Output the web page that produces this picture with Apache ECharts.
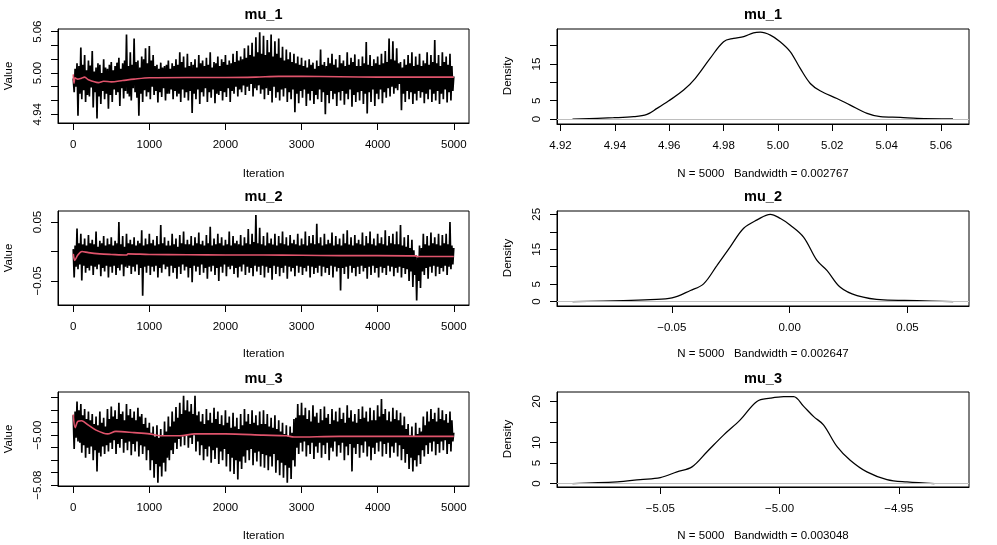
<!DOCTYPE html>
<html>
<head>
<meta charset="utf-8">
<title>mu_1 / mu_2 / mu_3 traces and densities</title>
<script src="https://cdn.jsdelivr.net/npm/echarts@6/dist/echarts.min.js"></script>
<style>
  html, body { margin: 0; padding: 0; background: #fff; }
  #chart { width: 997px; height: 545px; }
</style>
</head>
<body>
<div id="chart"></div>
<script>
// thinned iteration positions (every 12.5 draws) used for the traces
const iterations = [
  0, 12.5, 25, 37.5, 50, 62.5, 75, 87.5, 100, 112.5, 125, 137.5, 150, 162.5, 175, 187.5, 200, 212.5, 225, 237.5,
  250, 262.5, 275, 287.5, 300, 312.5, 325, 337.5, 350, 362.5, 375, 387.5, 400, 412.5, 425, 437.5, 450, 462.5, 475, 487.5,
  500, 512.5, 525, 537.5, 550, 562.5, 575, 587.5, 600, 612.5, 625, 637.5, 650, 662.5, 675, 687.5, 700, 712.5, 725, 737.5,
  750, 762.5, 775, 787.5, 800, 812.5, 825, 837.5, 850, 862.5, 875, 887.5, 900, 912.5, 925, 937.5, 950, 962.5, 975, 987.5,
  1000, 1012.5, 1025, 1037.5, 1050, 1062.5, 1075, 1087.5, 1100, 1112.5, 1125, 1137.5, 1150, 1162.5, 1175, 1187.5, 1200, 1212.5, 1225, 1237.5,
  1250, 1262.5, 1275, 1287.5, 1300, 1312.5, 1325, 1337.5, 1350, 1362.5, 1375, 1387.5, 1400, 1412.5, 1425, 1437.5, 1450, 1462.5, 1475, 1487.5,
  1500, 1512.5, 1525, 1537.5, 1550, 1562.5, 1575, 1587.5, 1600, 1612.5, 1625, 1637.5, 1650, 1662.5, 1675, 1687.5, 1700, 1712.5, 1725, 1737.5,
  1750, 1762.5, 1775, 1787.5, 1800, 1812.5, 1825, 1837.5, 1850, 1862.5, 1875, 1887.5, 1900, 1912.5, 1925, 1937.5, 1950, 1962.5, 1975, 1987.5,
  2000, 2012.5, 2025, 2037.5, 2050, 2062.5, 2075, 2087.5, 2100, 2112.5, 2125, 2137.5, 2150, 2162.5, 2175, 2187.5, 2200, 2212.5, 2225, 2237.5,
  2250, 2262.5, 2275, 2287.5, 2300, 2312.5, 2325, 2337.5, 2350, 2362.5, 2375, 2387.5, 2400, 2412.5, 2425, 2437.5, 2450, 2462.5, 2475, 2487.5,
  2500, 2512.5, 2525, 2537.5, 2550, 2562.5, 2575, 2587.5, 2600, 2612.5, 2625, 2637.5, 2650, 2662.5, 2675, 2687.5, 2700, 2712.5, 2725, 2737.5,
  2750, 2762.5, 2775, 2787.5, 2800, 2812.5, 2825, 2837.5, 2850, 2862.5, 2875, 2887.5, 2900, 2912.5, 2925, 2937.5, 2950, 2962.5, 2975, 2987.5,
  3000, 3012.5, 3025, 3037.5, 3050, 3062.5, 3075, 3087.5, 3100, 3112.5, 3125, 3137.5, 3150, 3162.5, 3175, 3187.5, 3200, 3212.5, 3225, 3237.5,
  3250, 3262.5, 3275, 3287.5, 3300, 3312.5, 3325, 3337.5, 3350, 3362.5, 3375, 3387.5, 3400, 3412.5, 3425, 3437.5, 3450, 3462.5, 3475, 3487.5,
  3500, 3512.5, 3525, 3537.5, 3550, 3562.5, 3575, 3587.5, 3600, 3612.5, 3625, 3637.5, 3650, 3662.5, 3675, 3687.5, 3700, 3712.5, 3725, 3737.5,
  3750, 3762.5, 3775, 3787.5, 3800, 3812.5, 3825, 3837.5, 3850, 3862.5, 3875, 3887.5, 3900, 3912.5, 3925, 3937.5, 3950, 3962.5, 3975, 3987.5,
  4000, 4012.5, 4025, 4037.5, 4050, 4062.5, 4075, 4087.5, 4100, 4112.5, 4125, 4137.5, 4150, 4162.5, 4175, 4187.5, 4200, 4212.5, 4225, 4237.5,
  4250, 4262.5, 4275, 4287.5, 4300, 4312.5, 4325, 4337.5, 4350, 4362.5, 4375, 4387.5, 4400, 4412.5, 4425, 4437.5, 4450, 4462.5, 4475, 4487.5,
  4500, 4512.5, 4525, 4537.5, 4550, 4562.5, 4575, 4587.5, 4600, 4612.5, 4625, 4637.5, 4650, 4662.5, 4675, 4687.5, 4700, 4712.5, 4725, 4737.5,
  4750, 4762.5, 4775, 4787.5, 4800, 4812.5, 4825, 4837.5, 4850, 4862.5, 4875, 4887.5, 4900, 4912.5, 4925, 4937.5, 4950, 4962.5, 4975, 4987.5,
  5000
]

// trace values (upper / lower swings of each chain)
const mu1Trace = [
  4.992, 4.972, 5.006, 4.980, 5.014, 4.938, 5.010, 4.970, 5.037, 4.962, 5.012, 4.975, 5.026, 4.958, 5.004, 4.968, 5.018, 4.966, 5.011, 4.979,
  5.032, 4.950, 5.002, 4.972, 5.008, 4.934, 5.014, 4.966, 5.012, 4.955, 5.000, 4.974, 5.020, 4.962, 5.008, 4.970, 5.006, 4.948, 5.012, 4.968,
  5.016, 4.958, 5.004, 4.976, 5.010, 4.968, 5.015, 4.972, 5.022, 4.952, 5.006, 4.978, 5.014, 4.963, 5.018, 4.974, 5.056, 4.970, 5.010, 4.966,
  5.030, 4.960, 5.012, 4.978, 5.050, 4.972, 5.016, 4.964, 5.018, 4.938, 5.008, 4.970, 5.024, 4.958, 5.020, 4.975, 5.036, 4.966, 5.014, 4.972,
  5.039, 4.962, 5.018, 4.980, 5.026, 4.968, 5.010, 4.974, 5.012, 4.957, 5.006, 4.972, 5.015, 4.965, 5.008, 4.978, 5.010, 4.960, 5.012, 4.970,
  5.018, 4.970, 5.006, 4.976, 5.014, 4.962, 5.010, 4.974, 5.020, 4.966, 5.012, 4.970, 5.030, 4.958, 5.016, 4.976, 5.024, 4.964, 5.008, 4.972,
  5.028, 4.960, 5.010, 4.974, 5.016, 4.942, 5.012, 4.970, 5.020, 4.962, 5.008, 4.976, 5.026, 4.955, 5.014, 4.972, 5.018, 4.966, 5.010, 4.978,
  5.022, 4.958, 5.012, 4.972, 5.030, 4.964, 5.008, 4.976, 5.016, 4.956, 5.014, 4.970, 5.024, 4.968, 5.010, 4.974, 5.020, 4.960, 5.016, 4.972,
  5.026, 4.965, 5.012, 4.978, 5.018, 4.958, 5.014, 4.974, 5.028, 4.970, 5.016, 4.980, 5.032, 4.966, 5.018, 4.976, 5.024, 4.972, 5.020, 4.982,
  5.036, 4.968, 5.022, 4.980, 5.040, 4.974, 5.026, 4.984, 5.044, 4.966, 5.024, 4.978, 5.052, 4.975, 5.030, 4.982, 5.059, 4.970, 5.028, 4.976,
  5.054, 4.962, 5.026, 4.978, 5.048, 4.968, 5.030, 4.974, 5.056, 4.957, 5.024, 4.980, 5.046, 4.964, 5.028, 4.972, 5.050, 4.960, 5.022, 4.976,
  5.038, 4.966, 5.018, 4.978, 5.034, 4.958, 5.020, 4.972, 5.030, 4.962, 5.016, 4.976, 5.028, 4.943, 5.014, 4.970, 5.024, 4.956, 5.012, 4.974,
  5.022, 4.964, 5.010, 4.976, 5.018, 4.952, 5.008, 4.970, 5.020, 4.960, 5.012, 4.974, 5.015, 4.955, 5.006, 4.968, 5.018, 4.962, 5.010, 4.976,
  5.034, 4.958, 5.012, 4.972, 5.016, 4.940, 5.010, 4.968, 5.022, 4.956, 5.014, 4.974, 5.028, 4.962, 5.012, 4.970, 5.020, 4.952, 5.008, 4.972,
  5.026, 4.960, 5.014, 4.974, 5.018, 4.954, 5.010, 4.970, 5.030, 4.962, 5.012, 4.976, 5.022, 4.951, 5.016, 4.968, 5.027, 4.958, 5.010, 4.972,
  5.020, 4.960, 5.010, 4.974, 5.024, 4.955, 5.014, 4.970, 5.045, 4.941, 5.012, 4.972, 5.026, 4.958, 5.010, 4.976, 5.020, 4.952, 5.014, 4.970,
  5.024, 4.962, 5.012, 4.976, 5.028, 4.956, 5.014, 4.972, 5.032, 4.964, 5.016, 4.978, 5.050, 4.966, 5.020, 4.980, 5.046, 4.970, 5.018, 4.978,
  5.036, 4.975, 5.014, 4.984, 5.016, 4.946, 5.008, 4.970, 5.020, 4.958, 5.012, 4.974, 5.026, 4.962, 5.014, 4.972, 5.030, 4.955, 5.010, 4.970,
  5.024, 4.960, 5.012, 4.974, 5.028, 4.964, 5.010, 4.972, 5.018, 4.956, 5.014, 4.970, 5.030, 4.962, 5.012, 4.976, 5.026, 4.958, 5.016, 4.970,
  5.048, 4.960, 5.014, 4.974, 5.026, 4.955, 5.010, 4.970, 5.030, 4.962, 5.016, 4.976, 5.024, 4.957, 5.012, 4.972, 5.028, 4.960, 5.010, 4.974,
  4.995
]

const mu2Trace = [
  0.004, -0.044, 0.010, -0.026, 0.039, -0.030, 0.014, -0.022, 0.030, -0.049, 0.012, -0.024, 0.022, -0.036, 0.010, -0.028, 0.028, -0.032, 0.014, -0.024,
  0.020, -0.040, 0.012, -0.026, 0.034, -0.030, 0.008, -0.022, 0.018, -0.042, 0.014, -0.028, 0.026, -0.034, 0.010, -0.024, 0.022, -0.044, 0.012, -0.026,
  0.024, -0.036, 0.010, -0.024, 0.018, -0.040, 0.014, -0.028, 0.050, -0.032, 0.012, -0.022, 0.026, -0.042, 0.008, -0.026, 0.030, -0.028, 0.014, -0.024,
  0.020, -0.038, 0.012, -0.026, 0.024, -0.034, 0.010, -0.022, 0.018, -0.040, 0.014, -0.028, 0.036, -0.075, 0.010, -0.026, 0.022, -0.036, 0.012, -0.024,
  0.030, -0.040, 0.014, -0.026, 0.020, -0.034, 0.010, -0.024, 0.026, -0.044, 0.012, -0.028, 0.045, -0.036, 0.014, -0.022, 0.024, -0.030, 0.010, -0.026,
  0.018, -0.042, 0.010, -0.024, 0.030, -0.036, 0.012, -0.028, 0.022, -0.046, 0.008, -0.026, 0.028, -0.038, 0.014, -0.022, 0.034, -0.032, 0.012, -0.026,
  0.020, -0.044, 0.012, -0.028, 0.026, -0.052, 0.010, -0.024, 0.024, -0.034, 0.014, -0.026, 0.032, -0.040, 0.012, -0.022, 0.018, -0.036, 0.010, -0.028,
  0.028, -0.046, 0.014, -0.026, 0.042, -0.034, 0.010, -0.024, 0.022, -0.040, 0.012, -0.028, 0.030, -0.050, 0.014, -0.026, 0.024, -0.036, 0.010, -0.022,
  0.020, -0.042, 0.012, -0.026, 0.034, -0.030, 0.010, -0.024, 0.026, -0.038, 0.014, -0.028, 0.018, -0.044, 0.012, -0.026, 0.028, -0.034, 0.010, -0.022,
  0.024, -0.040, 0.014, -0.026, 0.038, -0.036, 0.012, -0.028, 0.030, -0.042, 0.016, -0.024, 0.062, -0.034, 0.014, -0.026, 0.040, -0.040, 0.012, -0.024,
  0.026, -0.044, 0.010, -0.026, 0.032, -0.036, 0.014, -0.028, 0.022, -0.048, 0.012, -0.024, 0.030, -0.038, 0.010, -0.026, 0.026, -0.042, 0.014, -0.028,
  0.034, -0.036, 0.012, -0.024, 0.024, -0.046, 0.010, -0.026, 0.028, -0.034, 0.014, -0.028, 0.020, -0.042, 0.012, -0.024, 0.030, -0.036, 0.010, -0.026,
  0.022, -0.040, 0.012, -0.028, 0.034, -0.034, 0.010, -0.024, 0.026, -0.044, 0.014, -0.026, 0.028, -0.038, 0.012, -0.028, 0.047, -0.036, 0.014, -0.024,
  0.024, -0.042, 0.010, -0.026, 0.030, -0.036, 0.012, -0.028, 0.020, -0.040, 0.014, -0.024, 0.032, -0.044, 0.010, -0.026, 0.026, -0.034, 0.012, -0.028,
  0.022, -0.066, 0.010, -0.028, 0.030, -0.038, 0.014, -0.026, 0.036, -0.046, 0.012, -0.024, 0.024, -0.036, 0.010, -0.028, 0.028, -0.042, 0.014, -0.026,
  0.020, -0.038, 0.012, -0.024, 0.032, -0.034, 0.010, -0.028, 0.026, -0.046, 0.014, -0.026, 0.034, -0.040, 0.012, -0.024, 0.022, -0.036, 0.010, -0.028,
  0.030, -0.044, 0.014, -0.026, 0.024, -0.036, 0.012, -0.028, 0.036, -0.040, 0.010, -0.024, 0.026, -0.034, 0.014, -0.026, 0.030, -0.042, 0.012, -0.028,
  0.034, -0.036, 0.012, -0.026, 0.045, -0.044, 0.010, -0.028, 0.024, -0.038, 0.008, -0.030, 0.028, -0.050, 0.006, -0.034, 0.020, -0.060, 0.002, -0.040,
  -0.006, -0.083, -0.010, -0.050, 0.010, -0.062, 0.006, -0.034, 0.030, -0.040, 0.012, -0.028, 0.026, -0.046, 0.010, -0.026, 0.032, -0.036, 0.014, -0.024,
  0.024, -0.042, 0.012, -0.026, 0.030, -0.038, 0.010, -0.028, 0.028, -0.034, 0.014, -0.024, 0.030, -0.040, 0.012, -0.026, 0.050, -0.030, 0.010, -0.022,
  0.006
]

const mu3Trace = [
  -4.968, -5.022, -4.962, -5.004, -4.946, -5.010, -4.960, -5.012, -4.950, -5.028, -4.968, -5.016, -4.958, -5.036, -4.974, -5.020, -4.962, -5.030, -4.976, -5.018,
  -4.966, -5.040, -4.982, -5.024, -4.970, -5.058, -4.984, -5.028, -4.962, -5.034, -4.980, -5.018, -4.972, -5.030, -4.986, -5.016, -4.958, -5.026, -4.974, -5.012,
  -4.954, -5.022, -4.970, -5.008, -4.960, -5.030, -4.974, -5.014, -4.948, -5.020, -4.966, -5.006, -4.962, -5.028, -4.976, -5.012, -4.950, -5.024, -4.968, -5.010,
  -4.958, -5.032, -4.972, -5.014, -4.962, -5.026, -4.976, -5.010, -4.956, -5.034, -4.970, -5.016, -4.966, -5.030, -4.982, -5.018, -4.972, -5.040, -4.988, -5.024,
  -4.980, -5.056, -4.996, -5.040, -4.986, -5.068, -5.002, -5.046, -4.984, -5.076, -5.004, -5.050, -4.990, -5.066, -5.000, -5.044, -4.978, -5.058, -4.994, -5.036,
  -4.970, -5.040, -4.986, -5.024, -4.962, -5.030, -4.978, -5.012, -4.955, -5.022, -4.972, -5.006, -4.948, -5.018, -4.966, -5.002, -4.937, -5.016, -4.960, -5.000,
  -4.944, -5.020, -4.962, -5.004, -4.950, -5.014, -4.966, -5.000, -4.937, -5.026, -4.968, -5.010, -4.962, -5.032, -4.978, -5.016, -4.966, -5.040, -4.982, -5.022,
  -4.958, -5.034, -4.976, -5.018, -4.964, -5.044, -4.980, -5.024, -4.956, -5.038, -4.974, -5.020, -4.962, -5.046, -4.982, -5.026, -4.968, -5.040, -4.984, -5.022,
  -4.960, -5.050, -4.980, -5.030, -4.970, -5.058, -4.988, -5.036, -4.964, -5.062, -4.986, -5.040, -4.972, -5.071, -4.990, -5.042, -4.966, -5.054, -4.984, -5.034,
  -4.958, -5.044, -4.978, -5.024, -4.966, -5.040, -4.982, -5.022, -4.960, -5.048, -4.980, -5.028, -4.968, -5.042, -4.984, -5.026, -4.962, -5.050, -4.982, -5.030,
  -4.960, -5.052, -4.982, -5.032, -4.966, -5.056, -4.986, -5.034, -4.972, -5.050, -4.988, -5.030, -4.968, -5.060, -4.990, -5.040, -4.976, -5.064, -4.994, -5.044,
  -4.980, -5.068, -4.998, -5.048, -4.984, -5.076, -5.002, -5.052, -4.986, -5.070, -4.996, -5.040, -4.974, -5.050, -4.972, -5.020, -4.950, -5.030, -4.968, -5.012,
  -4.948, -5.026, -4.968, -5.010, -4.956, -5.034, -4.974, -5.016, -4.960, -5.030, -4.978, -5.012, -4.952, -5.038, -4.970, -5.018, -4.964, -5.028, -4.980, -5.012,
  -4.958, -5.036, -4.976, -5.016, -4.954, -5.030, -4.972, -5.012, -4.966, -5.040, -4.982, -5.020, -4.958, -5.026, -4.976, -5.010, -4.962, -5.034, -4.978, -5.016,
  -4.956, -5.028, -4.974, -5.012, -4.964, -5.040, -4.980, -5.018, -4.952, -5.032, -4.972, -5.014, -4.960, -5.058, -4.978, -5.020, -4.966, -5.030, -4.980, -5.014,
  -4.958, -5.036, -4.974, -5.016, -4.954, -5.028, -4.972, -5.010, -4.962, -5.034, -4.978, -5.018, -4.956, -5.040, -4.976, -5.020, -4.960, -5.030, -4.976, -5.012,
  -4.952, -5.026, -4.970, -5.010, -4.942, -5.034, -4.966, -5.014, -4.958, -5.030, -4.976, -5.012, -4.962, -5.036, -4.978, -5.018, -4.956, -5.028, -4.974, -5.012,
  -4.960, -5.034, -4.976, -5.016, -4.964, -5.040, -4.984, -5.022, -4.970, -5.044, -4.990, -5.030, -4.982, -5.054, -5.000, -5.036, -4.986, -5.058, -5.002, -5.040,
  -4.980, -5.050, -4.998, -5.032, -4.988, -5.046, -4.994, -5.024, -4.970, -5.034, -4.984, -5.016, -4.962, -5.030, -4.978, -5.012, -4.958, -5.026, -4.974, -5.010,
  -4.964, -5.032, -4.978, -5.014, -4.956, -5.028, -4.974, -5.010, -4.960, -5.024, -4.976, -5.008, -4.966, -5.030, -4.980, -5.014, -4.962, -5.026, -4.976, -5.010,
  -4.996
]

// running means (red lines)
const mu1MeanIter = [1, 10, 25, 60, 100, 150, 200, 330, 400, 500, 650, 800, 1000, 1500, 2000, 2400, 2700, 3000, 3500, 4000, 4500, 5000]
const mu1Mean = [4.998, 4.985, 4.993, 4.991, 4.992, 4.994, 4.990, 4.986, 4.988, 4.987, 4.989, 4.991, 4.993, 4.9935, 4.9935, 4.994, 4.995, 4.995, 4.9945, 4.994, 4.994, 4.994]
const mu2MeanIter = [1, 20, 60, 115, 200, 350, 500, 700, 720, 1000, 1500, 2000, 2500, 3000, 3500, 4000, 4500, 4520, 5000]
const mu2Mean = [-0.004, -0.015, -0.006, 0.000, -0.002, -0.004, -0.005, -0.006, -0.004, -0.005, -0.0055, -0.006, -0.006, -0.0065, -0.007, -0.007, -0.0075, -0.0085, -0.0085]
const mu3MeanIter = [1, 25, 60, 110, 200, 300, 400, 450, 560, 800, 1000, 1150, 1400, 1600, 2000, 2500, 2800, 2900, 3500, 4000, 4500, 5000]
const mu3Mean = [-4.967, -4.988, -4.978, -4.977, -4.984, -4.992, -4.997, -4.998, -4.994, -4.996, -4.998, -5.001, -5.001, -4.998, -4.998, -5.000, -5.001, -5.003, -5.002, -5.002, -5.002, -5.002]

// kernel density curves
const dens1X = [4.9244, 4.9395, 4.9469, 4.9518, 4.9555, 4.9597, 4.9653, 4.9696, 4.9751, 4.9800, 4.9837, 4.9874, 4.9910, 4.9935, 4.9972, 5.0008, 5.0045, 5.0082, 5.0119, 5.0155, 5.0217, 5.0266, 5.0328, 5.0377, 5.0450, 5.0512, 5.0644]
const dens1Y = [0.0, 0.36, 0.64, 1.27, 2.9, 4.9, 7.9, 11.1, 16.6, 21.1, 22.0, 22.5, 23.5, 23.7, 22.9, 21.1, 18.4, 13.8, 9.7, 7.7, 5.6, 3.8, 1.55, 0.64, 0.45, 0.18, 0.02]
const dens2X = [-0.0921, -0.0705, -0.0591, -0.0499, -0.0421, -0.0365, -0.0308, -0.0252, -0.0195, -0.0138, -0.0082, -0.0039, 0.0003, 0.0059, 0.0116, 0.0159, 0.0215, 0.0286, 0.0399, 0.0541, 0.0694]
const dens2Y = [0.0, 0.29, 0.58, 1.06, 3.2, 5.1, 10.4, 15.7, 21.0, 23.4, 25.0, 23.8, 21.9, 18.5, 11.8, 8.9, 4.1, 1.73, 0.48, 0.29, 0.0]
const dens3X = [-5.0868, -5.0681, -5.0584, -5.0500, -5.0430, -5.0367, -5.0304, -5.0235, -5.0165, -5.0095, -5.0039, -4.9983, -4.9941, -4.9899, -4.9857, -4.9816, -4.9759, -4.9704, -4.9634, -4.9550, -4.9466, -4.9351]
const dens3Y = [0.0, 0.4, 0.98, 1.47, 2.85, 4.07, 7.75, 11.8, 15.5, 20.0, 20.8, 21.2, 21.2, 18.8, 16.3, 14.3, 9.0, 5.7, 2.85, 0.98, 0.4, 0.0]

// ticks and labels
const iterTicks = [0, 1000, 2000, 3000, 4000, 5000]
const mu1Ticks = [4.94, 4.96, 4.98, 5.00, 5.02, 5.04, 5.06]
const mu1Labels = [4.94, 5.00, 5.06]
const mu2Ticks = [-0.05, 0.00, 0.05]
const mu2Labels = [-0.05, 0.05]
const mu3Ticks = [-5.08, -5.06, -5.04, -5.02, -5.00, -4.98, -4.96, -4.94]
const mu3Labels = [-5.08, -5.00]
const dens1XTicks = [4.92, 4.94, 4.96, 4.98, 5.00, 5.02, 5.04, 5.06]
const dens1YTicks = [0, 5, 10, 15, 20]
const dens1YLabels = [0, 5, 15]
const dens2XTicks = [-0.05, 0.00, 0.05]
const dens2YTicks = [0, 5, 10, 15, 20, 25]
const dens2YLabels = [0, 5, 15, 25]
const dens3XTicks = [-5.05, -5.00, -4.95]
const dens3YTicks = [0, 5, 10, 15, 20]
const dens3YLabels = [0, 5, 10, 20]

const titles = ['mu_1', 'mu_2', 'mu_3']
const subtitles = ['N = 5000   Bandwidth = 0.002767', 'N = 5000   Bandwidth = 0.002647', 'N = 5000   Bandwidth = 0.003048']

const FONT = '"Liberation Sans", Arial, Helvetica, sans-serif'
const RED = '#DF536B'

const zip = (xs, ys) => xs.map((x, i) => [x, ys[i]])
const num = (d) => (v) => v.toFixed(d).replace('-', '\u2212')

// panel boxes
const rows = [29, 211, 392]
const leftBox = { left: 58, width: 411 }
const rightBox = { left: 557, width: 412 }

const grids = []
rows.forEach(top => {
  grids.push({ left: leftBox.left, width: leftBox.width, top: top, height: 94, show: true, borderColor: '#000', borderWidth: 1, backgroundColor: 'transparent' })
  grids.push({ left: rightBox.left, width: rightBox.width, top: top, height: 95, show: true, borderColor: '#000', borderWidth: 1, backgroundColor: 'transparent' })
})

function xAxis (gridIndex, min, max, ticks, labels, fmt) {
  return {
    type: 'value', gridIndex, min, max, position: 'bottom',
    axisLine: { show: true, onZero: false, lineStyle: { color: '#000', width: 1 } },
    axisTick: { show: true, length: 7, lineStyle: { color: '#000' }, customValues: ticks },
    axisLabel: { show: true, margin: 16, color: '#000', fontSize: 11.5, fontFamily: FONT, customValues: labels, formatter: fmt },
    splitLine: { show: false }
  }
}
function yAxis (gridIndex, min, max, ticks, labels, fmt) {
  return {
    type: 'value', gridIndex, min, max, position: 'left',
    axisLine: { show: true, onZero: false, lineStyle: { color: '#000', width: 1 } },
    axisTick: { show: true, length: 7, lineStyle: { color: '#000' }, customValues: ticks },
    axisLabel: { show: true, rotate: 90, margin: 14, color: '#000', fontSize: 11.5, fontFamily: FONT, customValues: labels, formatter: fmt },
    splitLine: { show: false }
  }
}

const xAxes = [
  xAxis(0, -200, 5200, iterTicks, iterTicks, num(0)),
  xAxis(1, 4.9187, 5.0703, dens1XTicks, dens1XTicks, num(2)),
  xAxis(2, -200, 5200, iterTicks, iterTicks, num(0)),
  xAxis(3, -0.0987, 0.0761, dens2XTicks, dens2XTicks, num(2)),
  xAxis(4, -200, 5200, iterTicks, iterTicks, num(0)),
  xAxis(5, -5.0933, -4.9206, dens3XTicks, dens3XTicks, num(2))
]
const yAxes = [
  yAxis(0, 4.9273, 5.0639, mu1Ticks, mu1Labels, num(2)),
  yAxis(1, -1.36, 24.56, dens1YTicks, dens1YLabels, num(0)),
  yAxis(2, -0.0907, 0.0686, mu2Ticks, mu2Labels, num(2)),
  yAxis(3, -1.24, 25.95, dens2YTicks, dens2YLabels, num(0)),
  yAxis(4, -5.0814, -4.9309, mu3Ticks, mu3Labels, num(2)),
  yAxis(5, -0.83, 22.3, dens3YTicks, dens3YLabels, num(0))
]

const traces = [mu1Trace, mu2Trace, mu3Trace]
const means = [[mu1MeanIter, mu1Mean], [mu2MeanIter, mu2Mean], [mu3MeanIter, mu3Mean]]
const densities = [[dens1X, dens1Y], [dens2X, dens2Y], [dens3X, dens3Y]]

const series = []
traces.forEach((tr, k) => {
  series.push({
    type: 'line', xAxisIndex: 2 * k, yAxisIndex: 2 * k,
    data: zip(iterations, tr), showSymbol: false, symbol: 'none', silent: true, sampling: null,
    lineStyle: { color: '#000', width: 1.7, join: 'bevel' }, z: 2
  })
  series.push({
    type: 'line', xAxisIndex: 2 * k, yAxisIndex: 2 * k,
    data: zip(means[k][0], means[k][1]), showSymbol: false, symbol: 'none', smooth: 0.3, silent: true,
    lineStyle: { color: RED, width: 1.6 }, z: 3
  })
  series.push({
    type: 'line', xAxisIndex: 2 * k + 1, yAxisIndex: 2 * k + 1,
    data: zip(densities[k][0], densities[k][1]), showSymbol: false, symbol: 'none', smooth: 0.35, silent: true,
    lineStyle: { color: '#000', width: 1.25 }, z: 3,
    markLine: {
      silent: true, symbol: 'none', label: { show: false },
      lineStyle: { color: '#bebebe', width: 1, type: 'solid' },
      data: [{ yAxis: 0 }]
    }
  })
})

// titles, axis titles and subtitles
const textEl = (text, x, y, opts = {}) => ({
  type: 'text', x, y, rotation: opts.rotation || 0, silent: true,
  style: {
    text, fill: '#000', align: 'center', verticalAlign: 'middle',
    font: (opts.bold ? 'bold ' : '') + (opts.size || 11.5) + 'px ' + FONT
  }
})
const titleY = [15, 197, 379]
const subY = [174, 354, 536]
const midY = [76, 258, 439]
const graphics = []
titleY.forEach((y, k) => {
  graphics.push(textEl(titles[k], 263.5, y, { bold: true, size: 14.5 }))
  graphics.push(textEl(titles[k], 763, y, { bold: true, size: 14.5 }))
  graphics.push(textEl('Iteration', 263.5, subY[k]))
  graphics.push(textEl(subtitles[k], 763, subY[k]))
  graphics.push(textEl('Value', 9, midY[k], { rotation: Math.PI / 2 }))
  graphics.push(textEl('Density', 508, midY[k], { rotation: Math.PI / 2 }))
})

const chart = echarts.init(document.getElementById('chart'), null, { renderer: 'canvas' })
chart.setOption({
  animation: false,
  backgroundColor: '#fff',
  grid: grids,
  xAxis: xAxes,
  yAxis: yAxes,
  series: series,
  graphic: graphics
})
</script>
</body>
</html>
